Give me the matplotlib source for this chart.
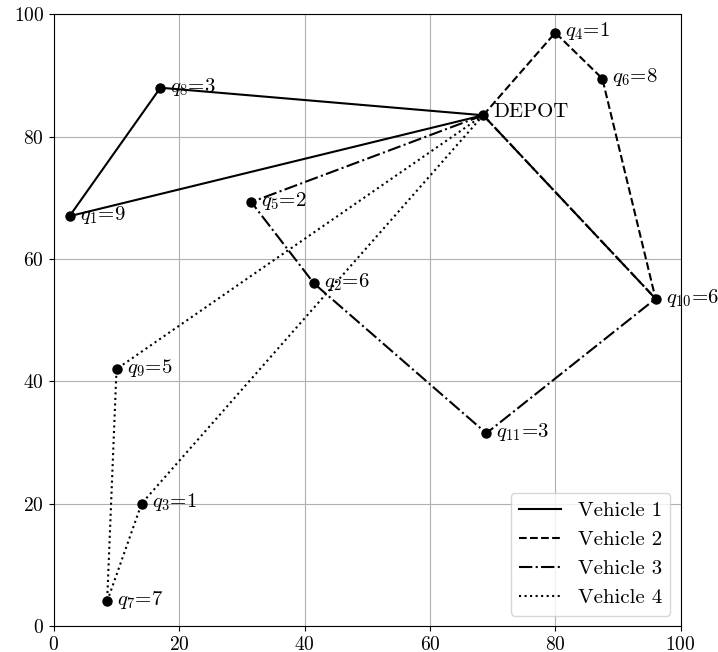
import matplotlib

matplotlib.use("Agg")
import matplotlib.pyplot as plt

plt.rcParams["font.family"] = "serif"
plt.rcParams["font.serif"] = ["cmr10"]
plt.rcParams["mathtext.fontset"] = "cm"
plt.rcParams["axes.formatter.use_mathtext"] = True
plt.rcParams["font.size"] = 14

# node coordinates (index 0 = depot) and demands
xs = [68.5, 2.5, 41.5, 14.0, 80.0, 31.5, 87.5, 8.5, 17.0, 10.0, 96.0, 69.0]
ys = [83.5, 67.0, 56.0, 20.0, 97.0, 69.3, 89.5, 4.0, 88.0, 42.0, 53.5, 31.5]
demand = [None, 9, 6, 1, 1, 2, 8, 7, 3, 5, 6, 3]

# routes per vehicle
routes = [
    [0, 8, 1, 0],
    [0, 4, 6, 10, 0],
    [0, 5, 2, 11, 10, 0],
    [0, 9, 7, 3, 0],
]
styles = ["-", "--", "-.", ":"]
labels = ["Vehicle 1", "Vehicle 2", "Vehicle 3", "Vehicle 4"]

fig, ax = plt.subplots(figsize=(7.18, 6.52))

for r, ls, lab in zip(routes, styles, labels):
    ax.plot([xs[i] for i in r], [ys[i] for i in r], ls=ls, color="black",
            lw=1.5, label=lab)

ax.plot(xs, ys, "o", color="black", ms=6.5)

for i in range(len(xs)):
    txt = "DEPOT" if i == 0 else f"$q_{{{i}}}$=${demand[i]}$"
    ax.text(xs[i] + 1.6, ys[i] + (0.6 if i == 0 else 0.2), txt,
            va="center", ha="left", fontsize=15)

ax.set_xlim(0, 100)
ax.set_ylim(0, 100)
ax.grid(True, color="#b0b0b0", lw=0.8)
ax.legend(loc="lower right", fontsize=15)

fig.subplots_adjust(left=0.075, right=0.948, top=0.978, bottom=0.04)
fig.savefig("out.png", dpi=100)
